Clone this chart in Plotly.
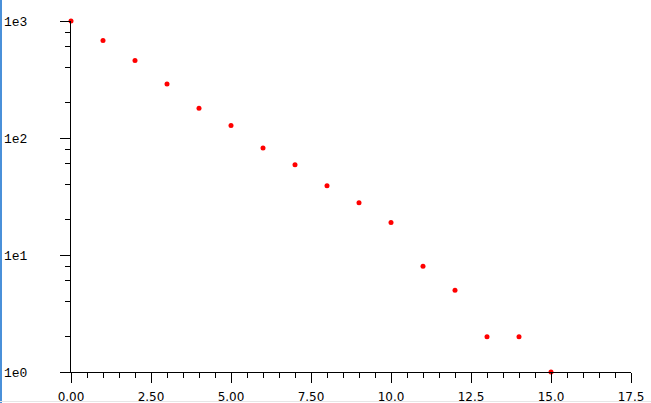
import plotly.graph_objects as go

x_vals = [0, 1, 2, 3, 4, 5, 6, 7, 8, 9, 10, 11, 12, 13, 14, 15]
y_vals = [1000, 680, 460, 290, 180, 128, 82, 59, 39, 28, 19, 8, 5, 2, 2, 1]

x_tickvals = [0, 2.5, 5, 7.5, 10, 12.5, 15, 17.5]
x_ticktext = ["0.00", "2.50", "5.00", "7.50", "10.0", "12.5", "15.0", "17.5"]
y_tickvals = [1, 10, 100, 1000]
y_ticktext = ["1e0", "1e1", "1e2", "1e3"]
y_minor = [m * 10 ** d for d in range(3) for m in (2, 4, 6, 8)]

fig = go.Figure()
fig.add_trace(go.Scatter(
    x=x_vals, y=y_vals, mode="markers",
    marker=dict(color="#ff0000", size=5, line=dict(width=0)),
    cliponaxis=False, showlegend=False, hoverinfo="skip",
))

W, H = 651, 403
L, R, T, B = 71, 20, 21, 31
pw, ph = W - L - R, H - T - B

fig.update_layout(
    width=W, height=H,
    margin=dict(l=L, r=R, t=T, b=B, pad=0, autoexpand=False),
    paper_bgcolor="white", plot_bgcolor="white",
    xaxis=dict(
        range=[0, 17.5], showgrid=False, zeroline=False, automargin=False,
        showline=True, linecolor="black", linewidth=1,
        ticks="outside", ticklen=10, tickcolor="black", tickwidth=1,
        tickmode="array", tickvals=x_tickvals, ticktext=x_ticktext,
        tickfont=dict(family="DejaVu Sans", size=12, color="black"),
        ticklabelstandoff=4,
        minor=dict(dtick=0.5, ticks="outside", ticklen=5, tickcolor="black", showgrid=False),
    ),
    yaxis=dict(
        type="log", range=[0, 3], showgrid=False, zeroline=False, automargin=False,
        showline=True, linecolor="black", linewidth=1,
        ticks="outside", ticklen=10, tickcolor="black", tickwidth=1,
        tickmode="array", tickvals=y_tickvals, ticktext=y_ticktext,
        tickfont=dict(family="Liberation Mono", size=13, color="black"),
        ticklabelstandoff=30,
        minor=dict(tickmode="array", tickvals=y_minor, ticks="outside", ticklen=5,
                   tickcolor="black", showgrid=False),
    ),
    shapes=[
        dict(type="line", xref="paper", yref="paper",
             x0=(1 - L) / pw, x1=(1 - L) / pw, y0=-B / ph, y1=(H - T) / ph + 0.01,
             line=dict(color="#4a90d9", width=2)),
        dict(type="line", xref="paper", yref="paper",
             x0=-L / pw, x1=(W - L) / pw, y0=(H - T - 0.5) / ph, y1=(H - T - 0.5) / ph,
             line=dict(color="#e6e6e6", width=1)),
        dict(type="line", xref="paper", yref="paper",
             x0=-L / pw, x1=(W - L) / pw, y0=-(B - 1.5) / ph, y1=-(B - 1.5) / ph,
             line=dict(color="#e6e6e6", width=1)),
    ],
)

fig.write_html(
    "out.html",
    config={"displayModeBar": False, "staticPlot": True},
    post_script="document.body.style.margin='0';document.body.style.overflow='hidden';",
)
